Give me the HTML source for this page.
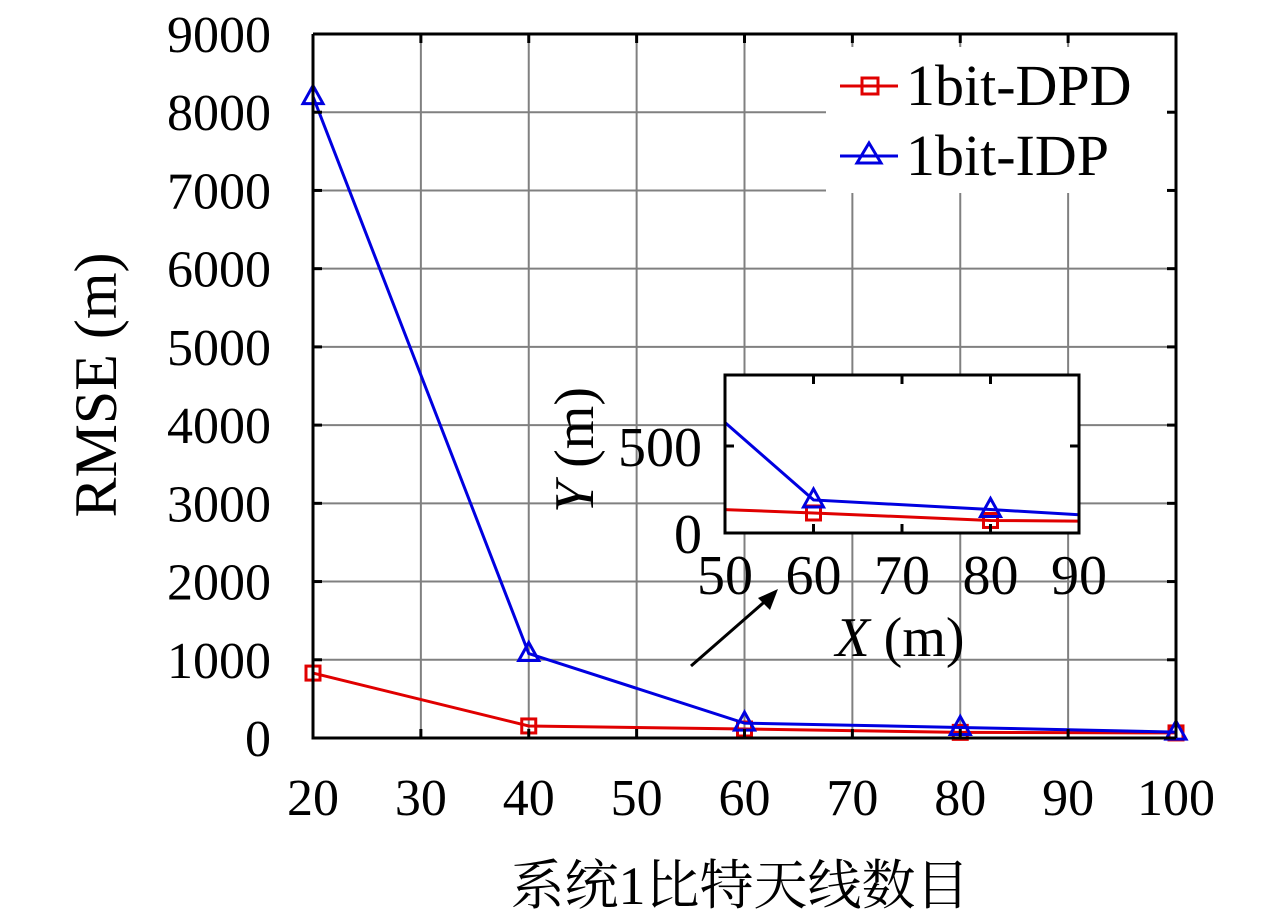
<!DOCTYPE html>
<html><head><meta charset="utf-8"><style>
body{margin:0;background:#fff;}
svg{display:block;font-family:"Liberation Serif","Noto Serif CJK SC",serif;}
</style></head><body>
<svg id="chart" width="1280" height="921" viewBox="0 0 1280 921" xmlns="http://www.w3.org/2000/svg">
<g id="main"></g>
</svg>
<script>
const categories=[20,40,60,80,100];
const dpdValues=[830,154,115,72,65];
const idpValues=[8200,1080,190,135,75];
const xTicks=[20,30,40,50,60,70,80,90,100];
const yTicks=[0,1000,2000,3000,4000,5000,6000,7000,8000,9000];
const insetXTicks=[50,60,70,80,90];
const insetYTicks=[0,500];
const insetXLabels=[50,60,70,80,90];

const NS="http://www.w3.org/2000/svg";
const root=document.getElementById('main');
function el(tag,attrs,parent,text){const e=document.createElementNS(NS,tag);for(const k in attrs)e.setAttribute(k,attrs[k]);if(text!==undefined)e.textContent=text;(parent||root).appendChild(e);return e;}

const L=313,R=1176,T=34,B=738;
const X=v=>L+(v-20)/80*(R-L);
const Y=v=>B-v/9000*(B-T);

const grid=el('g',{});


xTicks.forEach(t=>{if(t>20&&t<100){const g=el('line',{x1:X(t),x2:X(t),y1:T,y2:B,stroke:'#808080','stroke-width':2},grid);}});
yTicks.forEach(t=>{if(t>0&&t<9000){const g=el('line',{x1:L,x2:R,y1:Y(t),y2:Y(t),stroke:'#808080','stroke-width':2},grid);}});

const lg=el('g',{});


el('rect',{x:826,y:47,width:R-826,height:146,fill:'#fff'},lg);

function series(vals,color,marker,name,Xf,Yf,parent,xs,clip){
  const g=el('g',clip?{'clip-path':clip}:{},parent);
  
  
  const pts=xs.map((c,i)=>Xf(c)+','+Yf(vals[i])).join(' ');
  el('polyline',{points:pts,fill:'none',stroke:color,'stroke-width':3},g);
  xs.forEach((c,i)=>{
    const x=Xf(c),y=Yf(vals[i]);
    let m;
    if(marker==='sq')m=el('rect',{x:x-7,y:y-7,width:14,height:14,fill:'none',stroke:color,'stroke-width':3},g);
    else m=el('polygon',{points:`${x},${y-11} ${x-10},${y+7} ${x+10},${y+7}`,fill:'none',stroke:color,'stroke-width':3},g);
    
    
  });
}
series(dpdValues,'#e00000','sq','series-1bit-dpd',X,Y,root,categories);
series(idpValues,'#0000e0','tri','series-1bit-idp',X,Y,root,categories);

const ax=el('g',{});


el('line',{x1:L,x2:L,y1:T,y2:B+1.5,stroke:'#000','stroke-width':3},ax);
el('line',{x1:L-1.5,x2:R,y1:B,y2:B,stroke:'#000','stroke-width':3},ax);
xTicks.forEach(t=>{
  el('line',{x1:X(t),x2:X(t),y1:B,y2:B-9,stroke:'#000','stroke-width':3},ax);
  el('line',{x1:X(t),x2:X(t),y1:T,y2:T+9,stroke:'#000','stroke-width':3},ax);
  const tx=el('text',{x:X(t),y:815,'font-size':52,'text-anchor':'middle',fill:'#000'},ax,String(t));
  
  
});
yTicks.forEach(t=>{
  el('line',{x1:L,x2:L+9,y1:Y(t),y2:Y(t),stroke:'#000','stroke-width':3},ax);
  el('line',{x1:R,x2:R-9,y1:Y(t),y2:Y(t),stroke:'#000','stroke-width':3},ax);
  const tx=el('text',{x:271,y:Y(t)+18,'font-size':52,'text-anchor':'end',fill:'#000'},ax,String(t));
  
  
});
el('line',{x1:L,x2:R+1.5,y1:T,y2:T,stroke:'#000','stroke-width':3},ax);
el('line',{x1:R,x2:R,y1:T,y2:B,stroke:'#000','stroke-width':3},ax);

const xt=el('text',{x:740,y:904,'font-size':54,'text-anchor':'middle',fill:'#000'},root,'系统1比特天线数目');


const yt=el('text',{x:0,y:0,'font-size':60,'text-anchor':'middle',fill:'#000',transform:'translate(116,385) rotate(-90)'},root,'RMSE (m)');



[['1bit-DPD','#e00000','sq',86],['1bit-IDP','#0000e0','tri',156]].forEach(([n,c,m,y])=>{
  const g=el('g',{},lg);
  
  
  el('line',{x1:840,x2:898,y1:y,y2:y,stroke:c,'stroke-width':3},g);
  if(m==='sq')el('rect',{x:862,y:y-8,width:16,height:16,fill:'none',stroke:c,'stroke-width':3},g);
  else el('polygon',{points:`869,${y-13} 857,${y+7} 881,${y+7}`,fill:'none',stroke:c,'stroke-width':3},g);
  el('text',{x:906,y:y+19,'font-size':58,fill:'#000'},g,n);
});

const iL=725,iR=1079,iT=375,iB=533;
const IX=v=>iL+(v-50)/40*(iR-iL);
const IY=v=>iB-v/500*87;
const ins=el('g',{});


el('rect',{x:iL,y:iT,width:iR-iL,height:iB-iT,fill:'#fff'},ins);
const defs=el('defs',{},ins);
const cp=el('clipPath',{id:'ic'},defs);
el('rect',{x:iL,y:iT,width:iR-iL,height:iB-iT},cp);
series(dpdValues,'#e00000','sq','inset-series-1bit-dpd',IX,IY,ins,categories,'url(#ic)');
series(idpValues,'#0000e0','tri','inset-series-1bit-idp',IX,IY,ins,categories,'url(#ic)');
el('rect',{x:iL,y:iT,width:iR-iL,height:iB-iT,fill:'none',stroke:'#000','stroke-width':3},ins);
insetXTicks.forEach((t,i)=>{
  el('line',{x1:IX(t),x2:IX(t),y1:iB,y2:iB-9,stroke:'#000','stroke-width':3},ins);
  el('line',{x1:IX(t),x2:IX(t),y1:iT,y2:iT+9,stroke:'#000','stroke-width':3},ins);
  const tx=el('text',{x:IX(t),y:594,'font-size':56,'text-anchor':'middle',fill:'#000'},ins,String(insetXLabels[i]));
  
  
});
insetYTicks.forEach(t=>{
  el('line',{x1:iL,x2:iL+9,y1:IY(t),y2:IY(t),stroke:'#000','stroke-width':3},ins);
  el('line',{x1:iR,x2:iR-9,y1:IY(t),y2:IY(t),stroke:'#000','stroke-width':3},ins);
  const tx=el('text',{x:702,y:IY(t)+20,'font-size':56,'text-anchor':'end',fill:'#000'},ins,String(t));
  
  
});
const ixt=el('text',{x:900,y:656,'font-size':56,'text-anchor':'middle',fill:'#000'},ins);


el('tspan',{'font-style':'italic'},ixt,'X');
el('tspan',{},ixt,' (m)');
const iyt=el('text',{x:0,y:0,'font-size':56,'text-anchor':'middle',fill:'#000',transform:'translate(593,450) rotate(-90)'},ins);


el('tspan',{'font-style':'italic'},iyt,'Y');
el('tspan',{},iyt,' (m)');

const ar=el('g',{});


el('line',{x1:691,y1:666,x2:770,y2:597,stroke:'#000','stroke-width':3},ar);
el('polygon',{points:'778,589 758,598 770,610',fill:'#000'},ar);
</script>
</body></html>
